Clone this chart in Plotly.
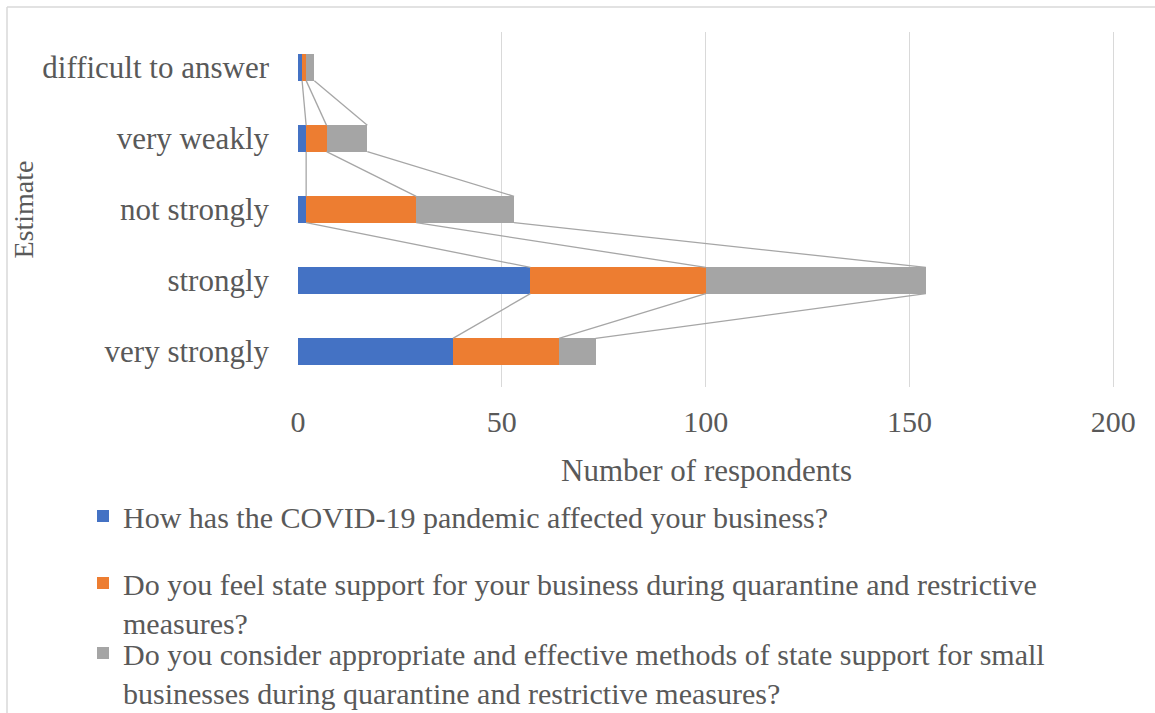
import plotly.graph_objects as go

categories = ["very strongly", "strongly", "not strongly", "very weakly", "difficult to answer"]
series_names = [
    "How has the COVID-19 pandemic affected your business?",
    "Do you feel state support for your business during quarantine and restrictive<br>measures?",
    "Do you consider appropriate and effective methods of state support for small<br>businesses during quarantine and restrictive measures?",
]
covid_affected = [38, 57, 2, 2, 1]
state_support_felt = [26, 43, 27, 5, 1]
support_methods_effective = [9, 54, 24, 10, 2]
x_ticks = [0, 50, 100, 150, 200]

series_values = [covid_affected, state_support_felt, support_methods_effective]
colors = ["#4472C4", "#ED7D31", "#A5A5A5"]
FONT = "Liberation Serif"
TXT = "#595959"
BAR_W = 0.37

fig = go.Figure()
ypos = list(range(len(categories)))
for i, (name, vals, col) in enumerate(zip(series_names, series_values, colors)):
    fig.add_trace(go.Bar(
        y=ypos, x=vals, name=name, orientation="h", width=BAR_W,
        marker=dict(color=col, line=dict(width=0)),
        legend="legend" if i == 0 else f"legend{i+1}",
    ))

# series lines (Excel style) connecting cumulative ends of adjacent bars
cum = [0] * len(categories)
for vals in series_values:
    cum = [c + v for c, v in zip(cum, vals)]
    xs, ys = [], []
    for k in range(len(categories) - 1):
        xs += [cum[k], cum[k + 1], None]
        ys += [k + BAR_W / 2, k + 1 - BAR_W / 2, None]
    fig.add_trace(go.Scatter(x=xs, y=ys, mode="lines", showlegend=False,
                             line=dict(color="#A6A6A6", width=1.3), hoverinfo="skip"))

L, R, T, B = 298, 40, 32, 326
PW, PH = 1155 - L - R, 713 - T - B

def px_x(px):
    return (px - L) / PW

def px_y(px):
    return 1 - (px - T) / PH

legend_common = dict(
    font=dict(family=FONT, size=30, color=TXT), bgcolor="rgba(0,0,0,0)",
    xanchor="left", yanchor="top", valign="top", traceorder="normal",
)

fig.update_layout(
    width=1155, height=713,
    margin=dict(l=L, r=R, t=T, b=B, autoexpand=False),
    plot_bgcolor="white", paper_bgcolor="white",
    barmode="stack", bargap=0.6,
    font=dict(family=FONT, color=TXT),
    xaxis=dict(
        range=[0, 200.4], tickvals=x_ticks, showgrid=True, gridcolor="#D9D9D9", gridwidth=1,
        zeroline=False, showline=False, ticks="",
        tickfont=dict(family=FONT, size=30, color=TXT), ticklabelstandoff=14,
        title=dict(text="Number of respondents", font=dict(family=FONT, size=31, color=TXT), standoff=22),
    ),
    yaxis=dict(
        range=[-0.5, 4.5], tickvals=ypos, ticktext=categories, showgrid=False,
        zeroline=False, showline=False, ticks="",
        tickfont=dict(family=FONT, size=31, color=TXT), ticklabelstandoff=28,
        title=dict(text="Estimate", font=dict(family=FONT, size=28, color=TXT), standoff=0),
    ),
    legend=dict(x=px_x(83), y=px_y(490), **legend_common),
    legend2=dict(x=px_x(83), y=px_y(557), **legend_common),
    legend3=dict(x=px_x(83), y=px_y(627), **legend_common),
    shapes=[
        dict(type="line", xref="paper", yref="paper", x0=px_x(7), x1=px_x(1200),
             y0=px_y(7), y1=px_y(7), line=dict(color="#D9D9D9", width=1.5)),
        dict(type="line", xref="paper", yref="paper", x0=px_x(7), x1=px_x(7),
             y0=px_y(7), y1=px_y(760), line=dict(color="#D9D9D9", width=1.5)),
    ],
)

fig.write_html("out.html", config={"displayModeBar": False},
               post_script="document.body.style.margin='0';")
